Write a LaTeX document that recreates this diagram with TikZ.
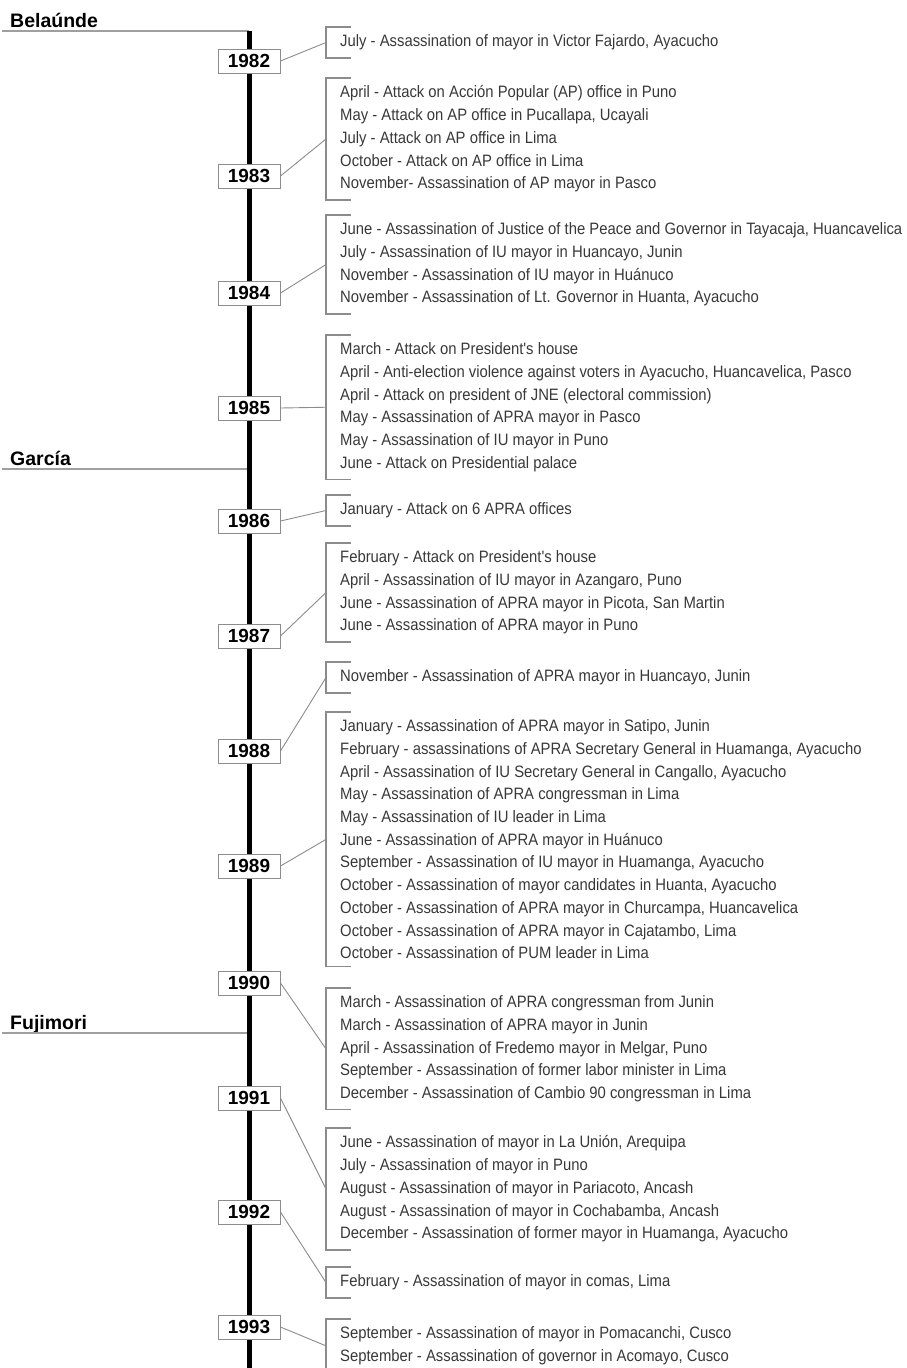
\documentclass[tikz,border=0pt]{standalone}
\usepackage{fontspec}
\setmainfont{Liberation Sans}
\newfontfamily\eventfont[FakeStretch=0.9]{Liberation Sans}
\definecolor{frameGray}{gray}{0.55}
\definecolor{textGray}{gray}{0.22}

\begin{document}
\begin{tikzpicture}
[x=1pt,y=-1pt,
  timeDecorate/.style={line width=5pt},
  presDecorate/.style={draw=gray!75,line width=1.6pt},
  nameDecorate/.style={anchor=base west,inner sep=0pt,font=\bfseries\fontsize{19.5}{20}\selectfont},
  yearDecorate/.style={shape=rectangle,draw=frameGray,fill=white,line width=1pt,
    minimum width=62pt,minimum height=24pt,inner sep=0pt,font=\bfseries\fontsize{19}{19}\selectfont},
  eventDecorate/.style={anchor=north west,align=left,inner xsep=14pt,inner ysep=7.6pt,
    text=textGray,font=\eventfont\fontsize{16.5}{22.7}\selectfont},
  bracketDecorate/.style={draw=frameGray,line width=1.2pt},
  lineDecorate/.style={-,draw=frameGray,line width=0.9pt}]
\useasboundingbox (0,0) rectangle (907,1368);
%% presidents
\foreach \pname/\ptext/\y in {bel/Belaúnde/31, gar/García/469, fuj/Fujimori/1033}
{
  \node (\pname) at (10,\y-4) [nameDecorate] {\ptext};
  \coordinate (\pname L) at (2,\y);
  \coordinate (\pname R) at (249,\y);
  \draw[presDecorate] (\pname L) -- (\pname R);
}
%% time line
\coordinate (start) at (249,31);
\coordinate (finish) at (249,1372);
\draw[timeDecorate] (start) -- (finish);
%% year boxes
\foreach \yr/\y in {
  1982/61, 1983/176, 1984/293, 1985/408, 1986/521, 1987/636,
  1988/751, 1989/866, 1990/983, 1991/1098, 1992/1212, 1993/1327}
{
  \node (y\yr) at (249,\y) [yearDecorate] {\yr};
}
%% events
\node (ev1982) at (326,27) [eventDecorate] {July - Assassination of mayor in Victor Fajardo, Ayacucho};
\node (ev1983) at (326,78) [eventDecorate] {April - Attack on Acción Popular (AP) office in Puno\\
  May - Attack on AP office in Pucallapa, Ucayali\\
  July - Attack on AP office in Lima\\
  October - Attack on AP office in Lima\\
  November- Assassination of AP mayor in Pasco};
\node (ev1984) at (326,215) [eventDecorate] {June - Assassination of Justice of the Peace and Governor in Tayacaja, Huancavelica\\
  July - Assassination of IU mayor in Huancayo, Junin\\
  November - Assassination of IU mayor in Huánuco\\
  November - Assassination of Lt. Governor in Huanta, Ayacucho};
\node (ev1985) at (326,335) [eventDecorate] {March - Attack on President's house\\
  April - Anti-election violence against voters in Ayacucho, Huancavelica, Pasco\\
  April - Attack on president of JNE (electoral commission)\\
  May - Assassination of APRA mayor in Pasco\\
  May - Assassination of IU mayor in Puno\\
  June - Attack on Presidential palace};
\node (ev1986) at (326,495) [eventDecorate] {January - Attack on 6 APRA offices};
\node (ev1987) at (326,543) [eventDecorate] {February - Attack on President's house\\
  April - Assassination of IU mayor in Azangaro, Puno\\
  June - Assassination of APRA mayor in Picota, San Martin\\
  June - Assassination of APRA mayor in Puno};
\node (ev1988) at (326,662) [eventDecorate] {November - Assassination of APRA mayor in Huancayo, Junin};
\node (ev1989) at (326,712) [eventDecorate] {January - Assassination of APRA mayor in Satipo, Junin\\
  February - assassinations of APRA Secretary General in Huamanga, Ayacucho\\
  April - Assassination of IU Secretary General in Cangallo, Ayacucho\\
  May - Assassination of APRA congressman in Lima\\
  May - Assassination of IU leader in Lima\\
  June - Assassination of APRA mayor in Huánuco\\
  September - Assassination of IU mayor in Huamanga, Ayacucho\\
  October - Assassination of mayor candidates in Huanta, Ayacucho\\
  October - Assassination of APRA mayor in Churcampa, Huancavelica\\
  October - Assassination of APRA mayor in Cajatambo, Lima\\
  October - Assassination of PUM leader in Lima};
\node (ev1990) at (326,988) [eventDecorate] {March - Assassination of APRA congressman from Junin\\
  March - Assassination of APRA mayor in Junin\\
  April - Assassination of Fredemo mayor in Melgar, Puno\\
  September - Assassination of former labor minister in Lima\\
  December - Assassination of Cambio 90 congressman in Lima};
\node (ev1991) at (326,1128) [eventDecorate] {June - Assassination of mayor in La Unión, Arequipa\\
  July - Assassination of mayor in Puno\\
  August - Assassination of mayor in Pariacoto, Ancash\\
  August - Assassination of mayor in Cochabamba, Ancash\\
  December - Assassination of former mayor in Huamanga, Ayacucho};
\node (ev1992) at (326,1267) [eventDecorate] {February - Assassination of mayor in comas, Lima};
\node (ev1993) at (326,1319) [eventDecorate] {September - Assassination of mayor in Pomacanchi, Cusco\\
  September - Assassination of governor in Acomayo, Cusco};
%% brackets and connectors
\foreach \yr in {1982,...,1993}
{
  \draw[bracketDecorate] ([xshift=25pt]ev\yr.north west) -- (ev\yr.north west)
    -- (ev\yr.south west) -- ([xshift=25pt]ev\yr.south west);
}
\path
\foreach \yr in {1982,...,1993}
{
  (y\yr.east) edge[lineDecorate] (ev\yr.west)
};
\end{tikzpicture}
\end{document}
